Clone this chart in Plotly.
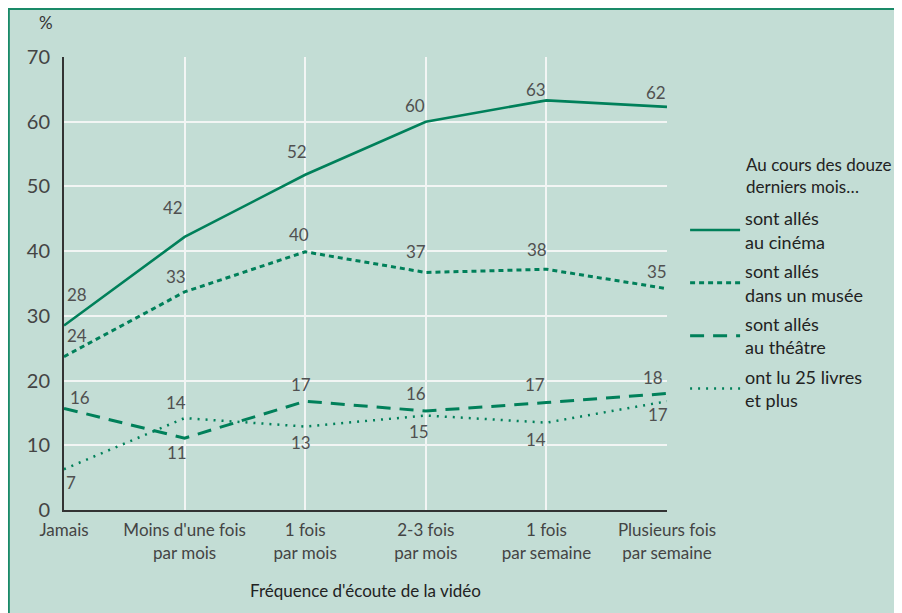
import plotly.graph_objects as go

categories = ["Jamais", "Moins d'une fois<br>par mois", "1 fois<br>par mois",
              "2-3 fois<br>par mois", "1 fois<br>par semaine", "Plusieurs fois<br>par semaine"]
cinema = [28.5, 42.2, 51.8, 60.0, 63.3, 62.3]
musee = [23.7, 33.7, 39.9, 36.7, 37.2, 34.2]
theatre = [15.7, 11.1, 16.8, 15.3, 16.6, 18.0]
livres = [6.3, 14.2, 12.9, 14.6, 13.5, 16.8]
labels_cinema = ["28", "42", "52", "60", "63", "62"]
labels_musee = ["24", "33", "40", "37", "38", "35"]
labels_theatre = ["16", "11", "17", "16", "17", "18"]
labels_livres = ["7", "14", "13", "15", "14", "17"]
series_names = ["sont allés<br>au cinéma", "sont allés<br>dans un musée",
                "sont allés<br>au théâtre", "ont lu 25 livres<br>et plus"]
legend_title = "Au cours des douze<br>derniers mois…"
y_ticks = [0, 10, 20, 30, 40, 50, 60, 70]

GREEN = "#00805a"
BG = "#c3ddd5"
FONT = "Lato"
x = list(range(len(categories)))

fig = go.Figure()
styles = [
    dict(width=2.6, dash="solid"),
    dict(width=3, dash="5px,4px"),
    dict(width=3, dash="14px,9px"),
    dict(width=2.5, dash="2px,6px"),
]
for k, (vals, name, st) in enumerate(zip([cinema, musee, theatre, livres], series_names, styles)):
    fig.add_trace(go.Scatter(x=x, y=vals, mode="lines", name=name, legendgroup=f"g{k}",
                             line=dict(color=GREEN, width=st["width"], dash=st["dash"])))

offsets = {
    "cinema": [(13, 31), (-12, 29), (-8, 23), (-11, 16), (-10, 11), (-11, 14)],
    "musee": [(13, 21), (-9, 15), (-6, 17), (-10, 21), (-9, 20), (-10, 17)],
    "theatre": [(16, 11), (-8, -14), (-4, 17), (-10, 17), (-11, 18), (-14, 16)],
    "livres": [(7, -13), (-9, 16), (-4, -16), (-7, -16), (-10, -17), (-9, -13)],
}
for key, vals, labs in [("cinema", cinema, labels_cinema), ("musee", musee, labels_musee),
                        ("theatre", theatre, labels_theatre), ("livres", livres, labels_livres)]:
    for i, (v, t) in enumerate(zip(vals, labs)):
        dx, dy = offsets[key][i]
        fig.add_annotation(x=x[i], y=v, text=t, showarrow=False, xshift=dx, yshift=dy,
                           font=dict(family=FONT, size=17, color="#505050"))

fig.add_annotation(xref="paper", yref="paper", x=-0.03, y=1.077, text="%", showarrow=False,
                   font=dict(family=FONT, size=17, color="#333"), xanchor="center", yanchor="middle")
fig.add_annotation(xref="paper", yref="paper", x=1.127, y=0.79, text=legend_title,
                   showarrow=False, xanchor="left", yanchor="top", align="left",
                   font=dict(family=FONT, size=17, color="#222"))

# background box with border
fig.add_shape(type="rect", xref="paper", yref="paper", x0=-0.0915, x1=1.45, y0=-0.3, y1=1.106,
              fillcolor=BG, line=dict(color="#1a8a68", width=2), layer="below")

fig.update_layout(
    width=902, height=613,
    margin=dict(l=56, r=243, t=49, b=111),
    paper_bgcolor="white", plot_bgcolor=BG,
    font=dict(family=FONT, color="#444"),
    showlegend=True,
    legend=dict(x=1.03, y=0.684, xanchor="left", yanchor="top",
                bgcolor="rgba(0,0,0,0)", traceorder="grouped",
                font=dict(family=FONT, size=18, color="#222"),
                tracegroupgap=3, itemwidth=50),
    xaxis=dict(range=[0, 5], tickvals=x, ticktext=categories, showgrid=True,
               gridcolor="#f2f5f4", gridwidth=1.5, zeroline=False,
               showline=True, linecolor="#333", linewidth=2,
               tickfont=dict(family=FONT, size=17, color="#444"), ticks="", ticklabelstandoff=4,
               title=dict(text="Fréquence d'écoute de la vidéo",
                          font=dict(family=FONT, size=17, color="#222"), standoff=24)),
    yaxis=dict(range=[0, 70], tickvals=y_ticks, showgrid=True, gridcolor="#f2f5f4",
               gridwidth=1.5, zeroline=False, showline=True, linecolor="#333", linewidth=2,
               tickfont=dict(family=FONT, size=20, color="#444"), ticks="", ticklabelstandoff=8),
)
fig.write_html("out.html")
